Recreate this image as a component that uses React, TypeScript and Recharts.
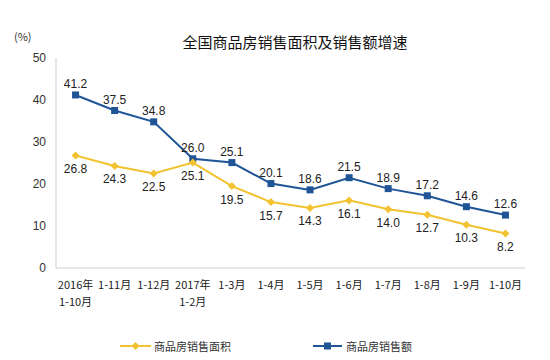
import { LineChart, Line, XAxis, YAxis, LabelList } from "recharts";

const categories = [
  "2016年\n1-10月",
  "1-11月",
  "1-12月",
  "2017年\n1-2月",
  "1-3月",
  "1-4月",
  "1-5月",
  "1-6月",
  "1-7月",
  "1-8月",
  "1-9月",
  "1-10月",
];
const areaGrowth = [26.8, 24.3, 22.5, 25.1, 19.5, 15.7, 14.3, 16.1, 14.0, 12.7, 10.3, 8.2];
const salesGrowth = [41.2, 37.5, 34.8, 26.0, 25.1, 20.1, 18.6, 21.5, 18.9, 17.2, 14.6, 12.6];
const yTicks = [0, 10, 20, 30, 40, 50];

const YELLOW = "#F2C230";
const BLUE = "#1F5597";
const BORDER = "#cfcfcf";
const CJK = '"Noto Sans CJK SC", "Noto Sans", sans-serif';
const LATIN = '"Liberation Sans", Arial, sans-serif';

const data = categories.map((c, i) => ({
  name: c,
  area: areaGrowth[i],
  sales: salesGrowth[i],
}));

function Diamond(props: any) {
  const { cx, cy } = props;
  if (cx == null || cy == null) return null;
  const r = 4;
  return (
    <path
      d={`M${cx},${cy - r}L${cx + r},${cy}L${cx},${cy + r}L${cx - r},${cy}Z`}
      fill={YELLOW}
    />
  );
}

function Square(props: any) {
  const { cx, cy } = props;
  if (cx == null || cy == null) return null;
  return <rect x={cx - 3.5} y={cy - 3.5} width={7} height={7} fill={BLUE} />;
}

function CatTick(props: any) {
  const { x, y, payload } = props;
  const lines = String(payload.value).split("\n");
  return (
    <g>
      {lines.map((l, i) => (
        <text
          key={i}
          x={x}
          y={y + 13 + i * 17}
          textAnchor="middle"
          fontSize={11}
          fontFamily={CJK}
          fill="#222"
        >
          {l}
        </text>
      ))}
    </g>
  );
}

export default function App() {
  return (
    <div
      style={{
        position: "fixed",
        left: 0,
        top: 0,
        width: 550,
        height: 360,
        background: "#fff",
      }}
    >
      <div
        style={{
          position: "absolute",
          left: 0,
          width: 590,
          top: 32,
          textAlign: "center",
          fontFamily: CJK,
          fontSize: 15,
          color: "#111",
          lineHeight: "20px",
        }}
      >
        全国商品房销售面积及销售额增速
      </div>
      <div
        style={{
          position: "absolute",
          left: 14,
          top: 28,
          fontFamily: CJK,
          fontSize: 11,
          color: "#333",
        }}
      >
        (%)
      </div>
      <LineChart
        width={550}
        height={360}
        data={data}
        margin={{ top: 58, right: 25, bottom: 52, left: 0 }}
      >
        <XAxis
          dataKey="name"
          scale="band"
          stroke={BORDER}
          tickLine={false}
          interval={0}
          tick={<CatTick />}
          height={40}
        />
        <XAxis
          xAxisId="top"
          orientation="top"
          dataKey="name"
          scale="band"
          stroke={BORDER}
          tick={false}
          tickLine={false}
          height={0}
        />
        <YAxis
          domain={[0, 50]}
          ticks={yTicks}
          width={56}
          stroke={BORDER}
          tickLine={false}
          tickMargin={4}
          tick={{ fontSize: 12, fill: "#333", fontFamily: LATIN }}
        />
        <YAxis
          yAxisId="right"
          orientation="right"
          domain={[0, 50]}
          width={0}
          stroke={BORDER}
          tick={false}
          tickLine={false}
        />
        <Line
          dataKey="sales"
          stroke={BLUE}
          strokeWidth={2}
          dot={<Square />}
          activeDot={false}
          isAnimationActive={false}
        >
          <LabelList
            dataKey="sales"
            position="top"
            offset={7}
            formatter={(v: any) => Number(v).toFixed(1)}
            fontSize={12}
            fontFamily={LATIN}
            fill="#222"
          />
        </Line>
        <Line
          dataKey="area"
          stroke={YELLOW}
          strokeWidth={2}
          dot={<Diamond />}
          activeDot={false}
          isAnimationActive={false}
        >
          <LabelList
            dataKey="area"
            position="bottom"
            offset={9}
            formatter={(v: any) => Number(v).toFixed(1)}
            fontSize={12}
            fontFamily={LATIN}
            fill="#222"
          />
        </Line>
      </LineChart>
      <div
        style={{
          position: "absolute",
          left: 120,
          top: 338,
          display: "flex",
          alignItems: "center",
          fontFamily: CJK,
          fontSize: 11,
          color: "#333",
        }}
      >
        <svg width={31} height={10} style={{ marginRight: 3 }}>
          <line x1={0} y1={5} x2={31} y2={5} stroke={YELLOW} strokeWidth={2} />
          <path d="M15.5,1L19.5,5L15.5,9L11.5,5Z" fill={YELLOW} />
        </svg>
        <span>商品房销售面积</span>
        <svg width={29} height={10} style={{ marginLeft: 82, marginRight: 4 }}>
          <line x1={0} y1={5} x2={29} y2={5} stroke={BLUE} strokeWidth={2} />
          <rect x={11} y={1.5} width={7} height={7} fill={BLUE} />
        </svg>
        <span>商品房销售额</span>
      </div>
    </div>
  );
}
